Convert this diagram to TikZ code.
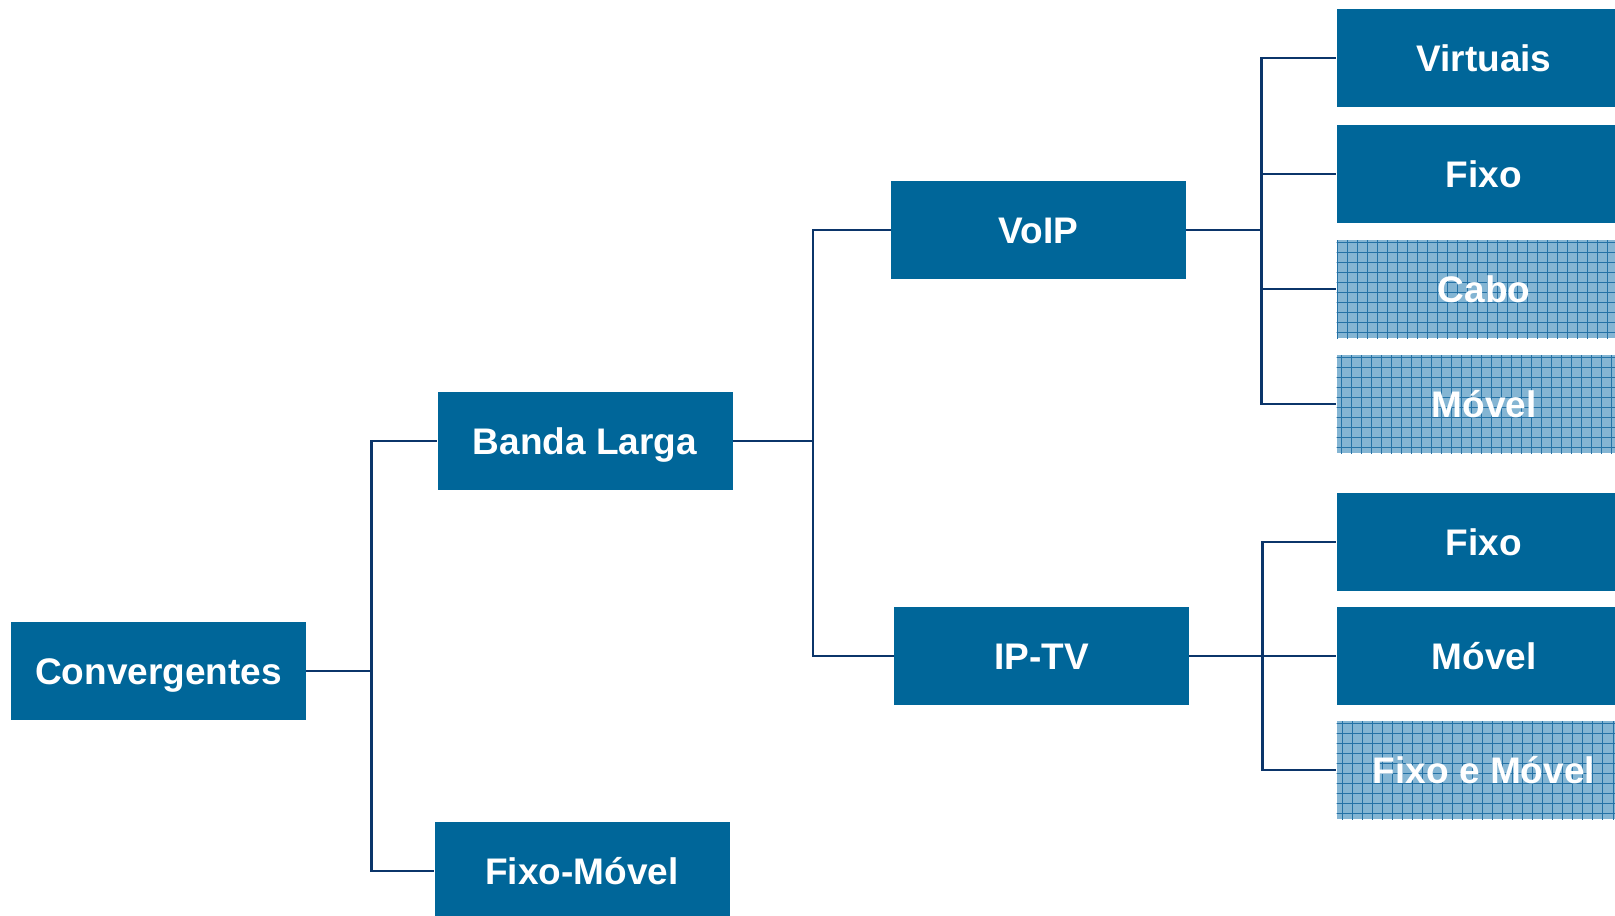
\documentclass[tikz,border=0pt]{standalone}
\usepackage{fontspec}
\setmainfont{Liberation Sans}
\definecolor{boxblue}{HTML}{006699}
\definecolor{lineblue}{HTML}{0B356A}
\definecolor{patfill}{HTML}{84B5D3}
\definecolor{patline}{HTML}{2472A6}
\tikzset{
  box/.style={fill=boxblue, text=white, font=\bfseries\fontsize{18.5pt}{22pt}\selectfont,
    minimum width=147.5pt, minimum height=49pt, inner sep=0pt, anchor=center,
    text height=13.3pt, text depth=0pt},
  patbox/.style={box, fill=patfill, path picture={
      \draw[patline, line width=0.5pt, step=5pt]
        ([xshift=-10pt,yshift=-10pt]path picture bounding box.south west) grid
        ([xshift=10pt,yshift=10pt]path picture bounding box.north east);}},
  conn/.style={draw=lineblue, line width=1.3pt}
}
\begin{document}
\begin{tikzpicture}[x=0.5pt, y=-0.5pt]
\useasboundingbox (0,0) rectangle (1615,915);
% nodes
\node[box] (conv) at (158.5,671) {Convergentes};
\node[box] (bl) at (585,441) {Banda Larga};
\node[box] (fm) at (582,871) {Fixo-Móvel};
\node[box] (voip) at (1038.5,230) {VoIP};
\node[box] (iptv) at (1041.5,656) {IP-TV};
\node[box] (virt) at (1484,58) {Virtuais};
\node[box] (fixo1) at (1484,174) {Fixo};
\node[patbox] (cabo) at (1484,289) {Cabo};
\node[patbox] (movel1) at (1484,404) {Móvel};
\node[box] (fixo2) at (1484,542) {Fixo};
\node[box] (movel2) at (1484,656) {Móvel};
\node[patbox] (fem) at (1484,770) {Fixo e Móvel};
% connectors
\draw[conn] (conv.east) -- ++(65,0) |- (bl.west);
\draw[conn] (conv.east) -- ++(65,0) |- (fm.west);
\draw[conn] (bl.east) -- ++(80,0) |- (voip.west);
\draw[conn] (bl.east) -- ++(80,0) |- (iptv.west);
\draw[conn] (voip.east) -- ++(75,0) |- (virt.west);
\draw[conn] (voip.east) -- ++(75,0) |- (fixo1.west);
\draw[conn] (voip.east) -- ++(75,0) |- (cabo.west);
\draw[conn] (voip.east) -- ++(75,0) |- (movel1.west);
\draw[conn] (iptv.east) -- ++(73,0) |- (fixo2.west);
\draw[conn] (iptv.east) -- ++(73,0) |- (movel2.west);
\draw[conn] (iptv.east) -- ++(73,0) |- (fem.west);
\end{tikzpicture}
\end{document}
